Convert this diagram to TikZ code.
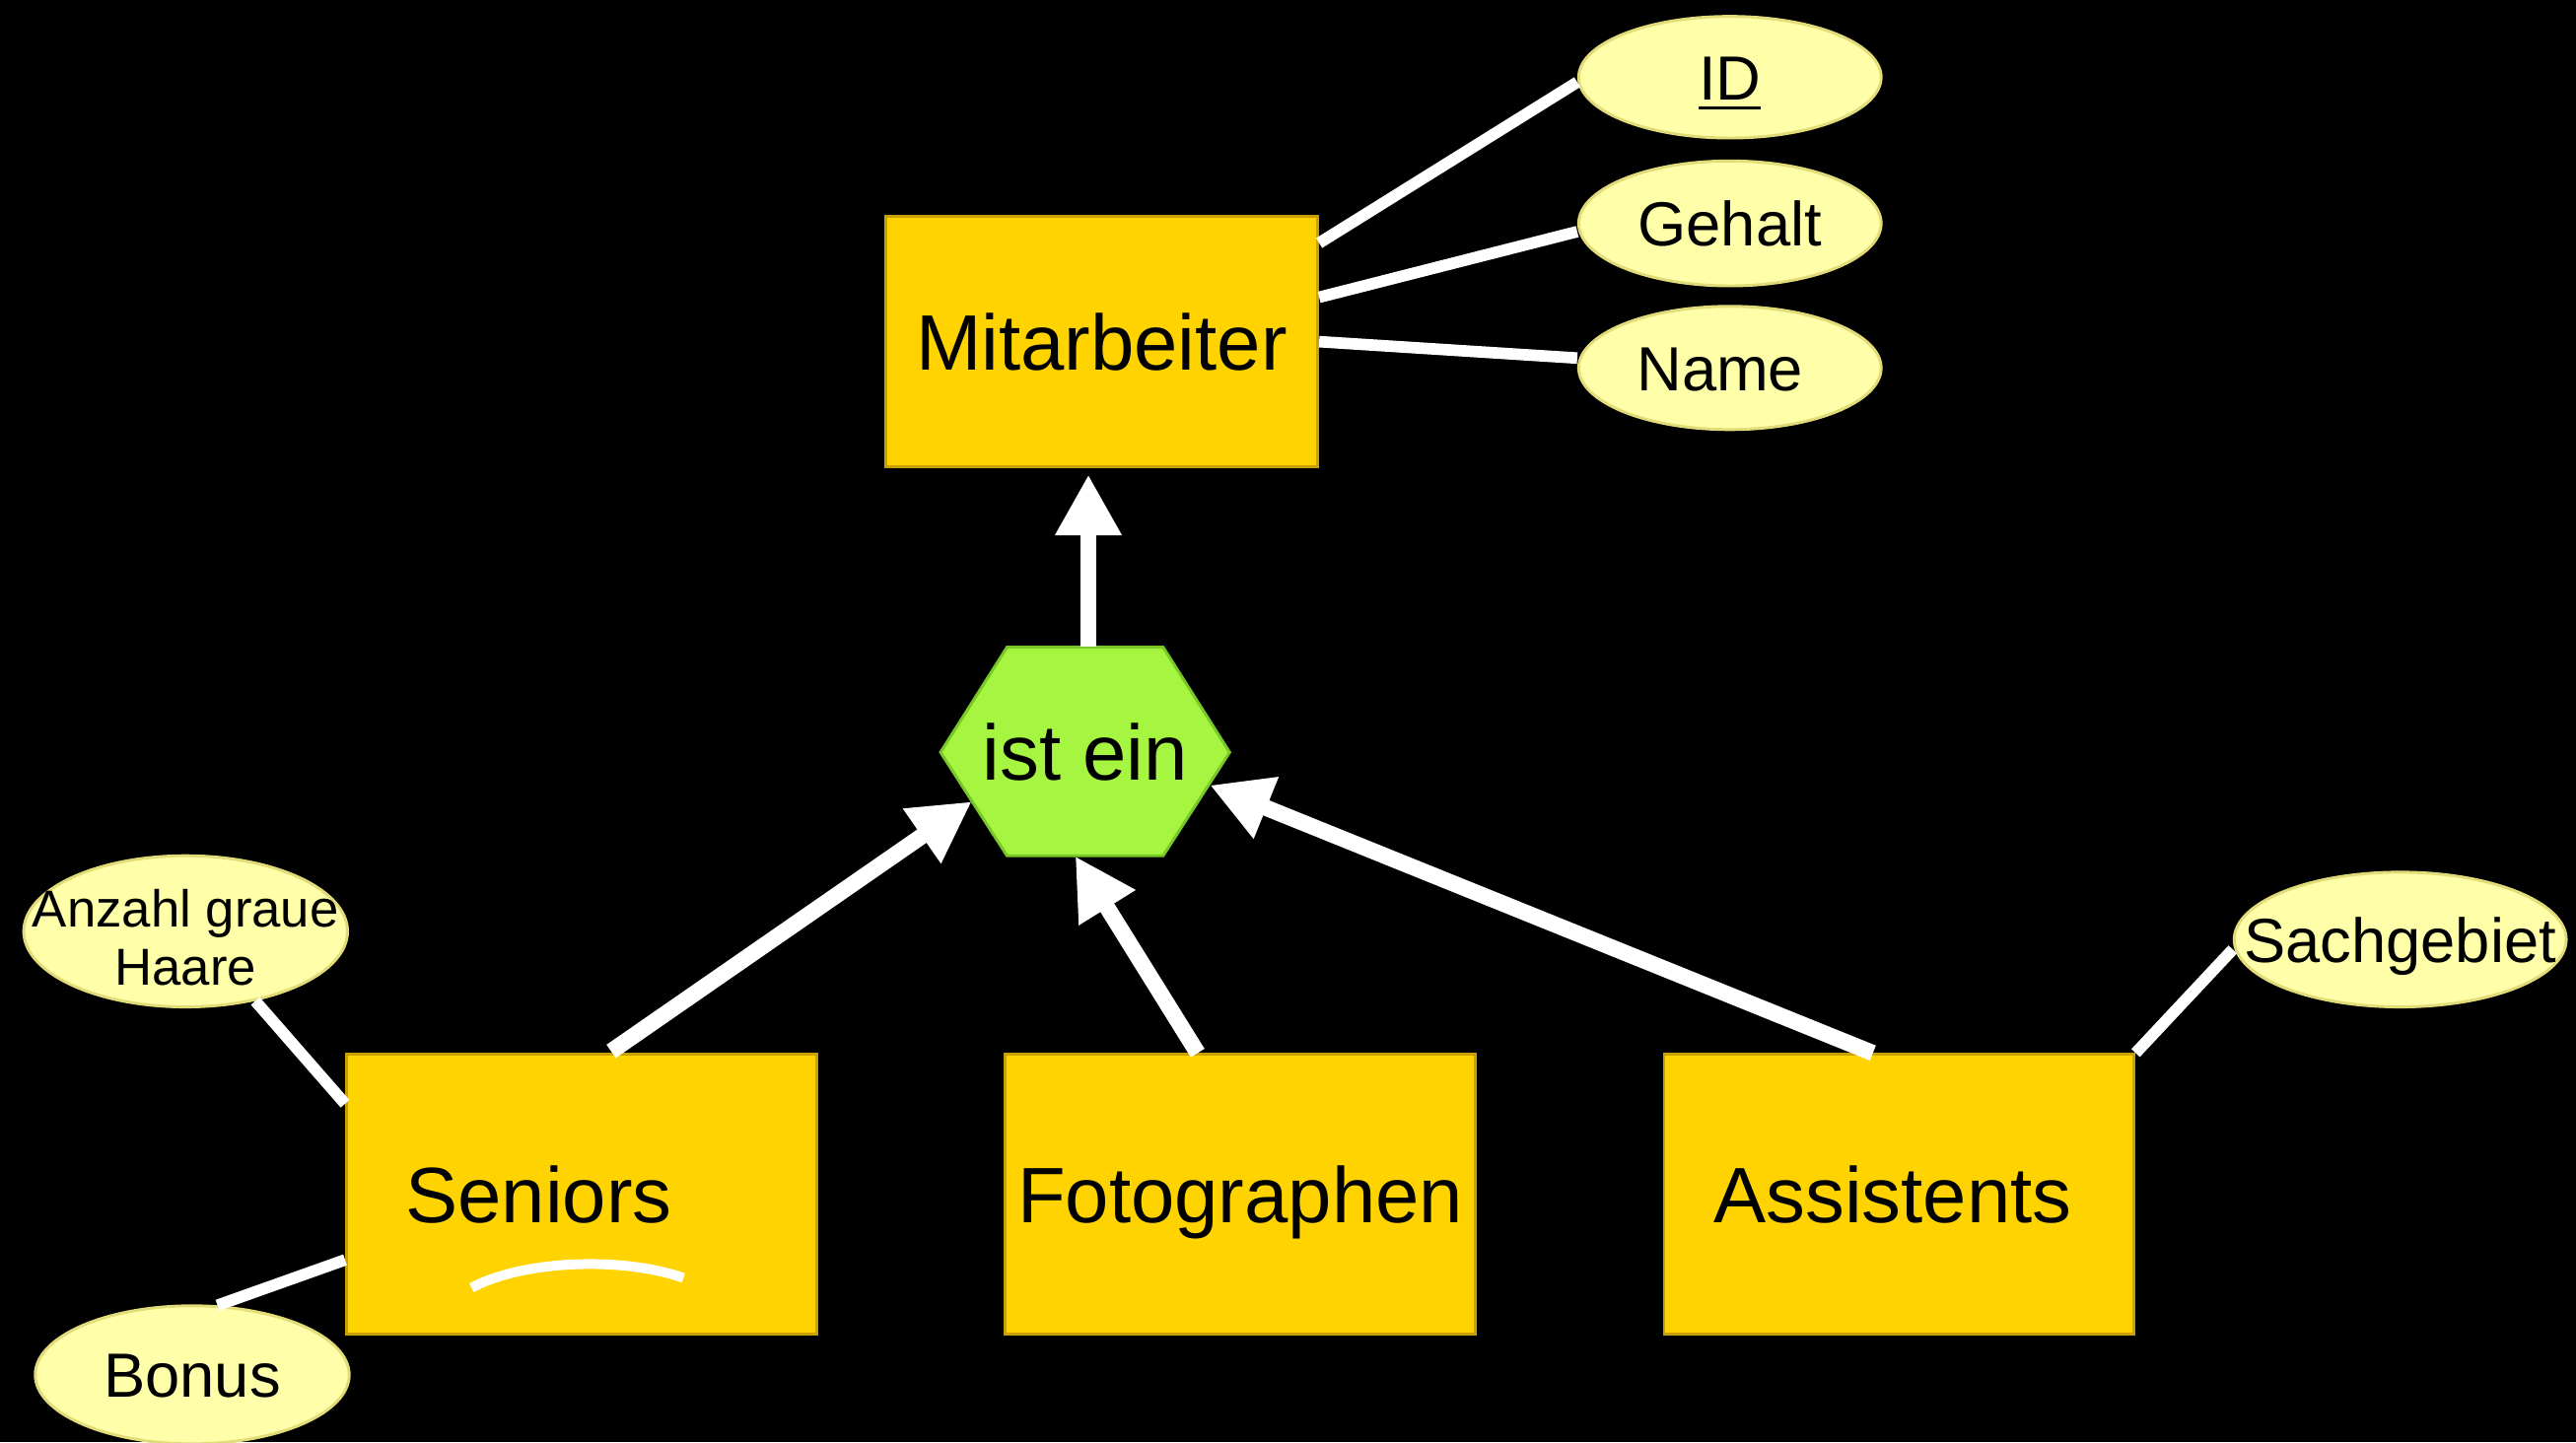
\documentclass[tikz,border=0pt]{standalone}
\usepackage{fontspec}
\setmainfont{Liberation Sans}
\usetikzlibrary{shapes.geometric,arrows.meta,calc}
\definecolor{boxgold}{RGB}{255,211,0}
\definecolor{boxedge}{RGB}{200,160,0}
\definecolor{attrfill}{RGB}{255,255,170}
\definecolor{attredge}{RGB}{225,220,120}
\definecolor{hexgreen}{RGB}{166,245,64}
\definecolor{hexedge}{RGB}{120,200,40}
\begin{document}
\begin{tikzpicture}[x=0.01cm,y=-0.01cm,
 entity/.style={draw=boxedge,line width=0.5pt,fill=boxgold,inner sep=0pt,
   minimum width=2.86cm,minimum height=1.70cm,
   font=\fontsize{13.6}{16}\selectfont,text height=9.8pt,text depth=0pt},
 attr/.style={ellipse,draw=attredge,line width=0.5pt,fill=attrfill,inner sep=0pt,
   font=\fontsize{10.8}{13}\selectfont,text height=7.8pt,text depth=0pt},
 link/.style={white,line width=2pt},
 isa/.style={white,line width=2.8pt,-{Triangle[length=10.5pt,width=10.8pt]}},
 hexlabel/.style={inner sep=0pt,minimum width=1.76cm,minimum height=1.27cm,
   font=\fontsize{13.6}{16}\selectfont,text height=9.8pt,text depth=0pt}
]
\useasboundingbox (0,0) rectangle (1568,878);
\fill[black] (0,0) rectangle (1568,878);

% entities
\node[entity,minimum width=2.63cm,minimum height=1.52cm] (mit) at (670.5,208) {Mitarbeiter};
\node[entity] (sen) at (354,727) {Seniors\hspace*{0.52cm}};
\node[entity] (fot) at (755,727) {Fotographen};
\node[entity] (ass) at (1156,727) {Assistents\hspace*{0.08cm}};

% attributes
\node[attr,minimum width=1.84cm,minimum height=0.74cm] (id) at (1053,47) {\makebox[0pt]{\underline{ID}}};
\node[attr,minimum width=1.84cm,minimum height=0.76cm] (geh) at (1053,136) {\makebox[0pt]{Gehalt}};
\node[attr,minimum width=1.84cm,minimum height=0.75cm] (nam) at (1053,224) {\makebox[0pt]{Name\hspace*{0.12cm}}};
\node[attr,minimum width=1.97cm,minimum height=0.92cm,font=\fontsize{9}{10.2}\selectfont,text height=0pt] (anz) at (113,567)
  {\raisebox{-0.33cm}[0pt][0pt]{\makebox[0pt]{\begin{tabular}[b]{@{}c@{}}Anzahl graue\\Haare\end{tabular}}}};
\node[attr,minimum width=1.91cm,minimum height=0.84cm] (bon) at (117,837) {\makebox[0pt]{Bonus}};
\node[attr,minimum width=2.02cm,minimum height=0.82cm] (sac) at (1461,572) {\makebox[0pt]{Sachgebiet}};

% is-a hexagon
\coordinate (hc) at (660.5,458);
\path[fill=hexgreen,draw=hexedge,line width=0.5pt] ($(hc)+(-88,0)$) -- ($(hc)+(-47.5,-64)$) -- ($(hc)+(47.5,-64)$)
  -- ($(hc)+(88,0)$) -- ($(hc)+(47.5,63)$) -- ($(hc)+(-47.5,63)$) -- cycle;
\node[hexlabel] (ist) at (hc) {ist ein};

% attribute links
\draw[link] ([yshift=0.6cm]mit.east) -- ([yshift=-0.03cm]id.west);
\draw[link] ([yshift=0.27cm]mit.east) -- ([yshift=-0.05cm]geh.west);
\draw[link] (mit.east) -- ([yshift=0.06cm]nam.west);
\draw[link] (anz.-45) -- ([yshift=0.55cm]sen.west);
\draw[link] (bon.70) -- ([yshift=-0.4cm]sen.west);
\draw[link] ([yshift=-0.06cm]sac.west) -- (ass.north east);

% is-a arrows
\draw[isa] ($(ist.north)+(2,0)$) -- ($(ist.north |- mit.south)+(2,4)$);
\draw[isa] ($(sen.north)+(18,-1)$) -- ($(ist.center)+(-69,30)$);
\draw[isa] ($(fot.north)+(-26,0)$) -- ($(ist.south)+(-6,-1)$);
\draw[isa] ($(ass.north)+(-16,0)$) -- ($(ist.center)+(76,20)$);

% stroke inside Seniors
\draw[white,line width=1.7pt] ($(sen.center)+(-67,57)$) .. controls ($(sen.center)+(-35,40)$) and ($(sen.center)+(25,38)$) .. ($(sen.center)+(62,51)$);
\end{tikzpicture}
\end{document}
